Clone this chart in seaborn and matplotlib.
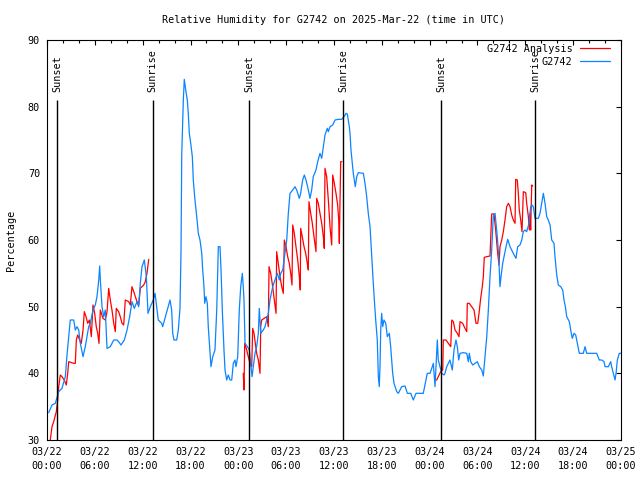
import numpy as np
import pandas as pd
import matplotlib
matplotlib.use("Agg")
import matplotlib.pyplot as plt
from matplotlib.ticker import MultipleLocator, FixedLocator
import seaborn as sns

# ---------------- data (hours since 2025-03-22 00:00 UTC) ----------------
title = "Relative Humidity for G2742 on 2025-Mar-22 (time in UTC)"
ylabel = "Percentage"
obs_label = "G2742"
ana_label = "G2742 Analysis"

obs_hours = [0.21, 0.63, 1.04, 1.47, 1.88, 2.30, 2.51, 2.72, 2.92, 3.35, 3.55, 3.76, 3.98, 4.18, 4.52,
             4.80, 5.02, 5.23, 5.43, 5.77, 6.06, 6.27, 6.49, 6.61, 6.69, 6.90, 7.11, 7.31, 7.53, 7.94,
             8.37, 8.78, 8.99, 9.28, 9.70, 10.04, 10.37, 10.66, 10.95, 11.29, 11.50, 11.70, 11.92, 12.21,
             12.46, 12.67, 12.96, 13.33, 13.55, 13.76, 13.96, 14.39, 14.51, 14.80, 15.22, 15.43, 15.64,
             15.77, 15.93, 16.27, 16.47, 16.68, 16.81, 16.90, 17.10, 17.22, 17.40, 17.60, 17.72, 17.85,
             18.03, 18.23, 18.35, 18.56, 18.78, 18.98, 19.19, 19.41, 19.53, 19.69, 19.78, 19.94, 20.11,
             20.23, 20.45, 20.57, 20.79, 21.07, 21.29, 21.41, 21.49, 21.70, 21.83, 21.99, 22.20, 22.33,
             22.54, 22.74, 22.96, 23.17, 23.37, 23.58, 23.71, 23.92, 24.12, 24.30, 24.50, 24.62, 24.71,
             24.84, 25.13, 25.38, 25.55, 25.72, 25.88, 26.09, 26.30, 26.51, 26.63, 26.81, 27.13, 27.35,
             27.76, 27.97, 28.31, 28.60, 28.89, 29.14, 29.32, 29.57, 29.85, 30.07, 30.27, 30.48, 30.82,
             31.11, 31.32, 31.65, 31.82, 32.07, 32.28, 32.49, 32.78, 32.99, 33.20, 33.40, 33.74, 33.96,
             34.24, 34.46, 34.66, 34.87, 35.16, 35.29, 35.50, 35.84, 36.13, 36.54, 36.97, 37.26, 37.51,
             37.67, 37.92, 38.01, 38.13, 38.30, 38.42, 38.55, 38.67, 38.85, 39.05, 39.68, 39.89, 40.10,
             40.30, 40.52, 40.73, 40.93, 41.06, 41.23, 41.43, 41.56, 41.68, 41.77, 41.86, 41.98, 42.11,
             42.27, 42.49, 42.69, 42.94, 43.11, 43.36, 43.53, 43.87, 44.07, 44.49, 44.91, 45.20, 45.62,
             45.95, 46.29, 46.79, 47.20, 47.54, 47.70, 48.04, 48.33, 48.46, 48.67, 48.80, 48.96, 49.08,
             49.30, 49.51, 49.80, 49.92, 50.14, 50.34, 50.55, 50.84, 51.05, 51.30, 51.47, 51.64, 51.81,
             52.22, 52.65, 52.85, 52.97, 53.15, 53.40, 53.69, 53.98, 54.23, 54.53, 54.73, 54.94, 55.16,
             55.36, 55.57, 55.78, 55.98, 56.20, 56.32, 56.48, 56.66, 56.82, 56.95, 57.16, 57.33, 57.58,
             57.79, 58.08, 58.49, 58.83, 59.04, 59.33, 59.55, 59.75, 59.96, 60.17, 60.46, 60.67, 60.84,
             61.00, 61.21, 61.63, 61.84, 62.05, 62.26, 62.47, 62.68, 62.88, 63.10, 63.31, 63.60, 63.72,
             63.94, 64.14, 64.44, 64.69, 64.85, 65.02, 65.19, 65.52, 65.69, 65.89, 66.11, 66.32, 66.52,
             66.77, 67.27, 67.49, 67.70, 68.11, 68.95, 69.28, 69.58, 69.87, 70.00, 70.41, 70.71, 70.83,
             71.04, 71.25, 71.38, 71.54, 71.79, 71.97]
obs_values = [34.1, 35.25, 35.5, 37.25, 37.75, 39.5, 42.75, 45.5, 48, 48, 46.5, 47, 46.5, 44.5, 42.5,
              44, 45.5, 47, 47.5, 49.5, 50.25, 51.5, 54, 56.1, 54, 50, 48.5, 49.5, 43.75, 44,
              45, 45, 44.75, 44.25, 45, 46.5, 48.5, 50.75, 49.75, 50.75, 50, 53.5, 56, 57,
              54.5, 49, 50, 51, 52, 50, 48, 47.5, 47, 48.25, 50, 51, 49.5,
              46, 45, 45, 46.5, 49.75, 58.25, 72.75, 81, 84.1, 82.5, 81, 79, 76,
              74.5, 72.5, 69, 66, 63.5, 61, 60, 58, 55.5, 53, 50.5, 51.5, 50.5,
              47, 43, 41, 42.5, 43.5, 49.5, 55.5, 59, 59, 55.5, 49.5, 43.5, 40.5,
              39, 39.75, 39, 39, 41.5, 42, 41, 42.5, 49.5, 53, 55, 53, 51,
              44.5, 44, 43.5, 41.5, 39.5, 41, 43, 44, 46, 49.75, 46, 46.5, 47,
              49, 51, 53, 54, 55, 54, 55, 55.5, 58, 60, 64, 67, 67.5,
              68, 67.5, 66.25, 67, 69, 69.75, 69, 67.5, 66.25, 67.5, 69.5, 70.5, 71.75,
              73, 72.25, 74, 75.75, 76.75, 76.25, 77, 77.25, 78, 78.1, 78.1, 78.5, 79,
              78.9, 77, 76, 73.5, 71.5, 70, 69, 68, 69.5, 70.1, 70, 68.5, 66.5,
              64, 62, 57.5, 53.5, 51, 48, 45, 39.5, 38, 41, 46.5, 49, 47,
              48, 47.5, 45.5, 46, 44, 40, 38.5, 37.25, 37, 38, 38.1, 37, 37,
              36, 37, 37, 37, 39, 40, 40, 41, 41.5, 38, 41, 45, 42,
              41, 40, 39.75, 40, 41, 41.5, 42, 40.5, 43.5, 45, 44, 42, 43,
              43.1, 43, 41.75, 43, 41.75, 41.25, 41.5, 41.75, 41, 40.5, 39.6, 42.5, 45.5,
              49.5, 54.5, 58.5, 63.5, 64, 62.5, 60.5, 57.5, 53, 54.5, 56.5, 57.5, 59,
              60.1, 59, 58, 57.25, 59, 59.25, 60, 61.25, 61.5, 61.25, 62.5, 65, 65.25,
              65, 63.25, 63.25, 64, 65.5, 67, 65.5, 63.5, 63, 62.25, 60, 59.5, 57.5,
              54.75, 53.25, 53, 52.5, 51, 50, 48.5, 47.75, 46.5, 45.25, 46, 45.75, 44.5,
              43, 43, 44, 43, 43, 43, 42, 42, 41.75, 41, 41, 41.75, 41,
              40, 39, 40, 42, 43, 43]

ana_hours = [0.41, 0.63, 0.84, 1.17, 1.34, 1.47, 1.67, 1.88, 2.17, 2.42, 2.60, 2.72, 3.35, 3.55, 3.68,
             3.85, 4.10, 4.30, 4.52, 4.68, 4.89, 5.11, 5.31, 5.56, 5.77, 5.98, 6.18, 6.36, 6.52, 6.69,
             7.02, 7.31, 7.53, 7.74, 7.94, 8.15, 8.37, 8.57, 8.69, 8.99, 9.19, 9.41, 9.62, 9.82, 10.25,
             10.45, 10.66, 10.88, 11.08, 11.29, 11.50, 11.70, 12.13, 12.33, 12.54, 12.76,
             np.nan,
             24.62, 24.71, 24.80, 25.05, 25.25, 25.46, 25.68, 25.80, 25.97, 26.13, 26.30, 26.51, 26.72,
             26.81, 26.93, 27.56, 27.76, 27.85, 28.06, 28.31, 28.51, 28.73, 28.81, 29.01, 29.23, 29.44,
             29.64, 29.77, 29.98, 30.19, 30.39, 30.57, 30.73, 30.82, 31.02, 31.23, 31.45, 31.65, 31.77,
             31.82, 32.02, 32.24, 32.45, 32.65, 32.78, 32.86, 33.08, 33.28, 33.49, 33.74, 33.83, 34.03,
             34.24, 34.46, 34.66, 34.78, 34.87, 35.08, 35.29, 35.50, 35.71, 35.84, 36.04, 36.25, 36.46,
             36.59, 36.67, 36.75, 36.84, 36.97,
             np.nan,
             48.67, 48.88, 49.08, 49.38, 49.64, 49.71, 50.05, 50.34, 50.64, 50.77, 50.97, 51.18, 51.47,
             51.68, 51.81, 52.14, 52.43, 52.65, 52.72, 52.97, 53.27, 53.56, 53.81, 54.03, 54.19, 54.40,
             54.60, 54.73, 54.85, 55.16, 55.57, 55.78, 56.07, 56.28, 56.53, 56.70, 56.82, 57.04, 57.24,
             57.45, 57.66, 57.87, 58.08, 58.29, 58.49, 58.71, 58.79, 58.99, 59.12, 59.24, 59.42, 59.58,
             59.75, 60.05, 60.17, 60.38, 60.50, 60.59, 60.67, 60.80, 60.92]
ana_values = [30, 32, 32.75, 34.25, 36, 38, 39.75, 39.5, 39, 38.25, 40, 41.75, 41.5, 41.5, 45,
              45.75, 45, 44.5, 46.5, 49.25, 48.5, 47.5, 48, 45.5, 50.25, 49, 47, 46, 44.5, 49.5,
              48.25, 48, 49.25, 52.75, 51, 49.5, 47.5, 46.25, 49.75, 49.25, 48.5, 47.5, 47.25, 51, 50.75,
              50.25, 53, 52.25, 51.5, 50.75, 50.25, 52.75, 53.25, 53.75, 55, 57.1,
              np.nan,
              40, 37.5, 44.5, 43.5, 42.5, 41.5, 41, 46.75, 46, 44.5, 43, 42, 40,
              47, 48, 48.5, 47, 56, 55, 53, 51, 49, 58.25, 56.5, 54.5, 53,
              52, 60, 59, 57.5, 56.5, 55, 53.25, 62.25, 61, 59, 57, 54.5, 52.5,
              61.75, 60.5, 59, 58, 56.5, 55.5, 65.75, 64, 62.5, 60.5, 58.25, 66.25, 65.5,
              64, 62.5, 60.5, 58.75, 70.75, 69.5, 66, 62, 59.25, 69.75, 68.5, 67, 65.25,
              63, 59.5, 65.5, 71.75, 71.75,
              np.nan,
              39, 39, 39.5, 40.25, 40.5, 45, 45, 44.5, 44, 48, 47.75, 46.5, 46,
              45.5, 47.75, 47.5, 46.75, 46.25, 50.5, 50.5, 50, 49.5, 47.5, 47.5, 49, 51.25,
              53, 54.5, 57.4, 57.5, 57.6, 63.9, 63.9, 61.5, 58, 56.25, 59, 60, 61.25,
              63, 65, 65.5, 65, 63.75, 63, 62.5, 69.1, 69, 67, 64.5, 63, 61.25,
              67.25, 67.1, 65.5, 63.5, 61.5, 64, 61.5, 68.25, 68.1]

sun_hours = [1.30, 13.25, 25.38, 37.17, 49.46, 61.25]
sun_labels = ["Sunset", "Sunrise", "Sunset", "Sunrise", "Sunset", "Sunrise"]
sun_line_top = 81.0
sun_text_y = 82.2

x_tick_hours = [0, 6, 12, 18, 24, 30, 36, 42, 48, 54, 60, 66, 72]
x_tick_labels = ["03/22\n00:00", "03/22\n06:00", "03/22\n12:00", "03/22\n18:00",
                 "03/23\n00:00", "03/23\n06:00", "03/23\n12:00", "03/23\n18:00",
                 "03/24\n00:00", "03/24\n06:00", "03/24\n12:00", "03/24\n18:00",
                 "03/25\n00:00"]
y_ticks = [30, 40, 50, 60, 70, 80, 90]

# ---------------- style ----------------
sns.set_theme(style="white")
plt.rcParams["font.family"] = ["DejaVu Sans Mono", "DejaVu Sans"]
FS = 7.3
plt.rcParams.update({
    "font.size": FS,
    "axes.edgecolor": "black",
    "axes.linewidth": 0.8,
    "xtick.color": "black",
    "ytick.color": "black",
    "text.color": "black",
    "axes.labelcolor": "black",
})

fig = plt.figure(figsize=(6.4, 4.8), dpi=100)
ax = fig.add_axes([47 / 640, 40 / 480, 574 / 640, 400 / 480])

ana_df = pd.DataFrame({"hours": ana_hours, "rh": ana_values})
obs_df = pd.DataFrame({"hours": obs_hours, "rh": obs_values})

# draw with seaborn; NaN rows break the analysis line into separate segments
for i, seg in enumerate(np.split(ana_df, np.where(ana_df["hours"].isna())[0])):
    seg = seg.dropna()
    sns.lineplot(data=seg, x="hours", y="rh", ax=ax, color="#ff0000", lw=0.9,
                 estimator=None, sort=False, label=ana_label if i == 0 else None)
sns.lineplot(data=obs_df, x="hours", y="rh", ax=ax, color="#0a84ff", lw=0.9,
             estimator=None, sort=False, label=obs_label)

ax.vlines(sun_hours, ymin=y_ticks[0], ymax=sun_line_top, color="black", lw=1.0)
for h, lab in zip(sun_hours, sun_labels):
    ax.text(h, sun_text_y, lab, rotation=90, ha="center", va="bottom", fontsize=FS)

ax.set_xlim(x_tick_hours[0], x_tick_hours[-1])
ax.set_ylim(y_ticks[0], y_ticks[-1])
ax.xaxis.set_major_locator(FixedLocator(x_tick_hours))
ax.set_xticklabels(x_tick_labels, linespacing=1.45)
ax.xaxis.set_minor_locator(MultipleLocator(2))
ax.set_yticks(y_ticks)
ax.tick_params(which="both", direction="in", top=True, right=True, width=0.8, labelsize=FS)
ax.tick_params(which="major", length=3.3)
ax.tick_params(axis="x", which="major", pad=5)
ax.tick_params(axis="y", which="major", pad=5)
ax.tick_params(which="minor", length=2.2)

ax.set_xlabel("")
ax.set_ylabel(ylabel, fontsize=FS)
ax.yaxis.set_label_coords(-31 / 574, 0.5)
ax.set_title(title, fontsize=FS, pad=12.5)

leg = ax.legend(loc="upper right", markerfirst=False, frameon=False, fontsize=FS,
                handlelength=3.0, handletextpad=0.7, labelspacing=0.25,
                borderpad=0, borderaxespad=0, bbox_to_anchor=(1 - 11 / 574, 1 - 4 / 400))

fig.savefig("out.png", dpi=100)
